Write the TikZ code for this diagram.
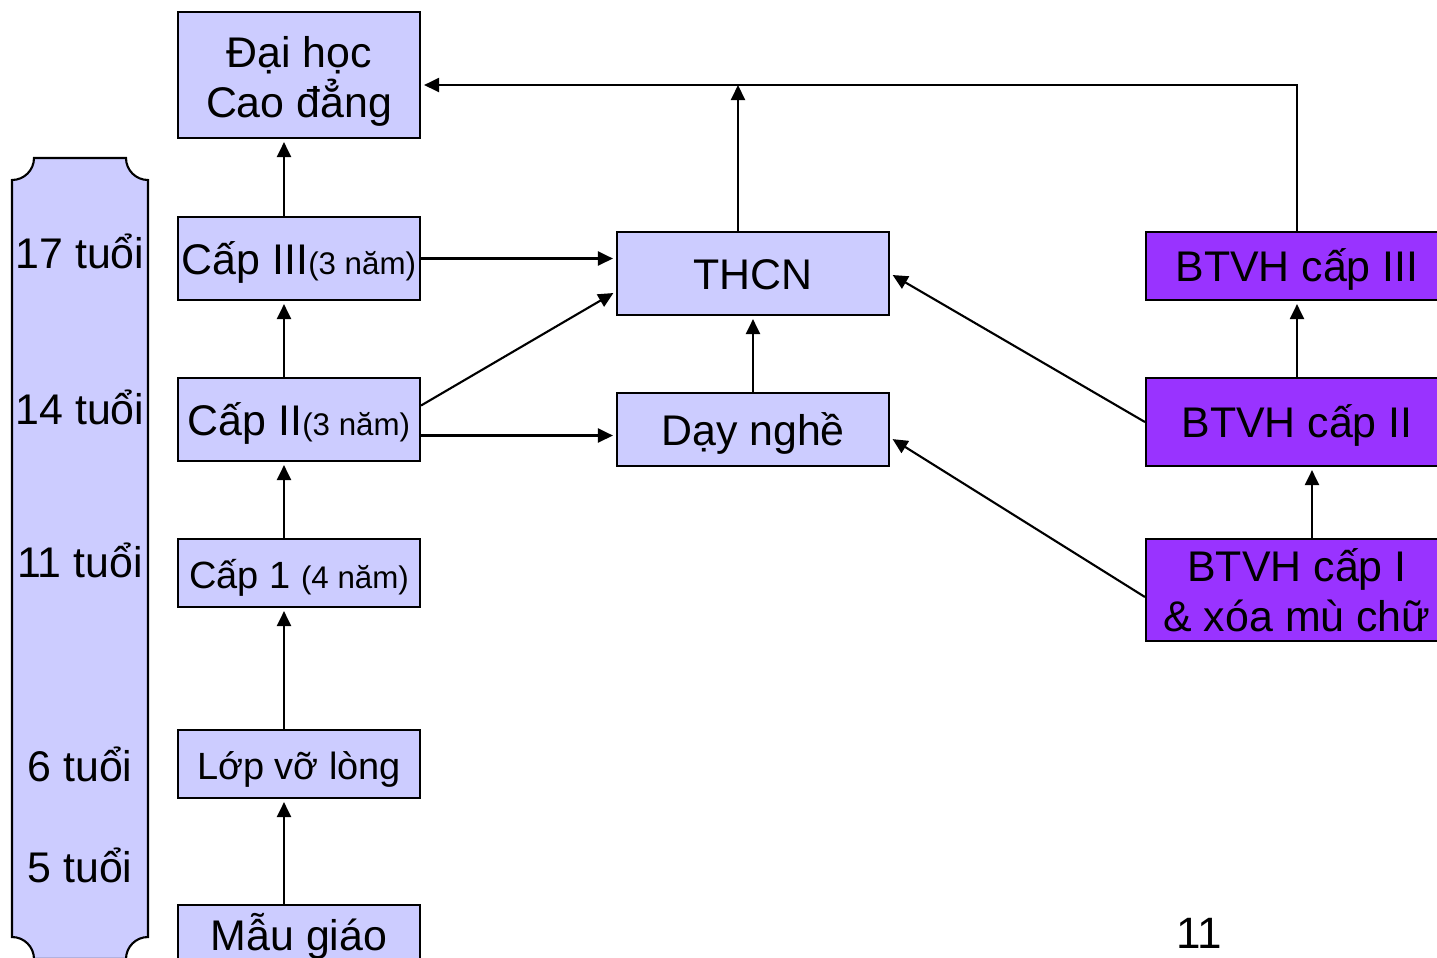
\documentclass[tikz,border=0pt]{standalone}
\usepackage{fontspec}
\setmainfont{Liberation Sans}
\usetikzlibrary{arrows.meta}

\definecolor{boxblue}{HTML}{CCCCFF}
\definecolor{btvhpurple}{HTML}{9933FF}

\newcommand{\nam}[1]{{\fontsize{8.9}{10}\selectfont(#1 năm)}}

\begin{document}
\begin{tikzpicture}[
	line width=0.6pt,
	lbox/.style={draw, fill=boxblue, rectangle, inner sep=0pt, align=center,
		minimum width=2.42cm, font=\fontsize{12.2}{14.2}\selectfont},
	oneline/.style={text height=0.31cm, text depth=0pt},
	mbox/.style={lbox, oneline, minimum width=2.72cm},
	pbox/.style={lbox, fill=btvhpurple, minimum width=3.02cm},
	arr/.style={-{Triangle[length=0.15cm,width=0.14cm]}, shorten >=0.03cm}
	]
	
	\useasboundingbox (0,0) rectangle (14.37,-9.57);
	\clip (0,0) rectangle (14.37,-9.57);
	
	\def\r{0.22} % Radius of the scroll corners
	
	% Draw the age scroll
	\draw[fill=boxblue] (0.12,-1.80) arc[start angle=-90, end angle=0, radius=\r]
		-- (1.26,-1.58) arc[start angle=180, end angle=270, radius=\r]
		-- (1.48,-9.37) arc[start angle=90, end angle=180, radius=\r]
		-- (0.34,-9.59) arc[start angle=0, end angle=90, radius=\r] -- cycle;
	
	% Place the ages
	\foreach \age/\yy in {17/2.68, 14/4.24, 11/5.77, 6/7.81, 5/8.82} {
		\node[anchor=base, font=\fontsize{12.2}{14.2}\selectfont] (age\age) at (0.80,-\yy) {\age{} tuổi};
	}
	
	% Left column
	\node[lbox, minimum height=1.26cm] (dh) at (2.99,-0.75) {\rule{0pt}{0.43cm}Đại học\\Cao đẳng};
	\node[lbox, oneline, minimum height=0.83cm] (c3) at (2.99,-2.585) {Cấp III\nam{3}};
	\node[lbox, oneline, minimum height=0.83cm] (c2) at (2.99,-4.195) {Cấp II\nam{3}};
	\node[lbox, oneline, minimum height=0.68cm, font=\fontsize{10.8}{12}\selectfont] (c1) at (2.99,-5.73) {Cấp 1 \nam{4}};
	\node[lbox, oneline, minimum height=0.68cm, font=\fontsize{10.8}{12}\selectfont] (lvl) at (2.99,-7.64) {Lớp vỡ lòng};
	\node[lbox, oneline, minimum height=0.60cm] (mg) at (2.99,-9.35) {Mẫu giáo};
	
	% Middle column
	\node[mbox, minimum height=0.83cm] (thcn) at (7.53,-2.735) {THCN};
	\node[mbox, minimum height=0.73cm] (dn) at (7.53,-4.295) {Dạy nghề};
	
	% Right column
	\node[pbox, oneline, minimum height=0.68cm] (b3) at (12.97,-2.66) {BTVH cấp III};
	\node[pbox, oneline, minimum height=0.88cm] (b2) at (12.97,-4.22) {BTVH cấp II};
	\node[pbox, minimum height=1.02cm] (b1) at (12.97,-5.90) {BTVH cấp I\\\& xóa mù chữ};
	
	\node[font=\fontsize{12.5}{14}\selectfont] (pg) at (11.99,-9.33) {11};
	
	% Arrows up the left column
	\draw[arr] ([xshift=-0.15cm]mg.north) -- ([xshift=-0.15cm]lvl.south);
	\draw[arr] ([xshift=-0.15cm]lvl.north) -- ([xshift=-0.15cm]c1.south);
	\draw[arr] ([xshift=-0.15cm]c1.north) -- ([xshift=-0.15cm]c2.south);
	\draw[arr] ([xshift=-0.15cm]c2.north) -- ([xshift=-0.15cm]c3.south);
	\draw[arr] ([xshift=-0.15cm]c3.north) -- ([xshift=-0.15cm]dh.south);
	
	% Arrows into the middle column
	\draw[arr] (c3.east) -- (c3.east -| thcn.west);
	\draw[arr] ([yshift=0.14cm]c2.east) -- ([yshift=-0.18cm]thcn.west);
	\draw[arr] ([yshift=-0.16cm]c2.east) -- ([yshift=-0.16cm]c2.east -| dn.west);
	\draw[arr] (dn.north) -- (thcn.south);
	
	% Arrows to Dai hoc
	\coordinate (top) at ([yshift=-0.10cm]dh.east);
	\draw[arr, shorten >=0pt] ([xshift=-0.15cm]thcn.north) -- ([xshift=-0.15cm]thcn.north |- top);
	\draw[arr] (b3.north) |- (top);
	
	% Arrows from the right column
	\draw[arr] (b2.north) -- (b3.south);
	\draw[arr] ([xshift=0.15cm]b1.north) -- ([xshift=0.15cm]b2.south);
	\draw[arr] (b2.west) -- (thcn.east);
	\draw[arr] ([yshift=-0.07cm]b1.west) -- ([yshift=-0.08cm]dn.east);
	
\end{tikzpicture}
\end{document}
